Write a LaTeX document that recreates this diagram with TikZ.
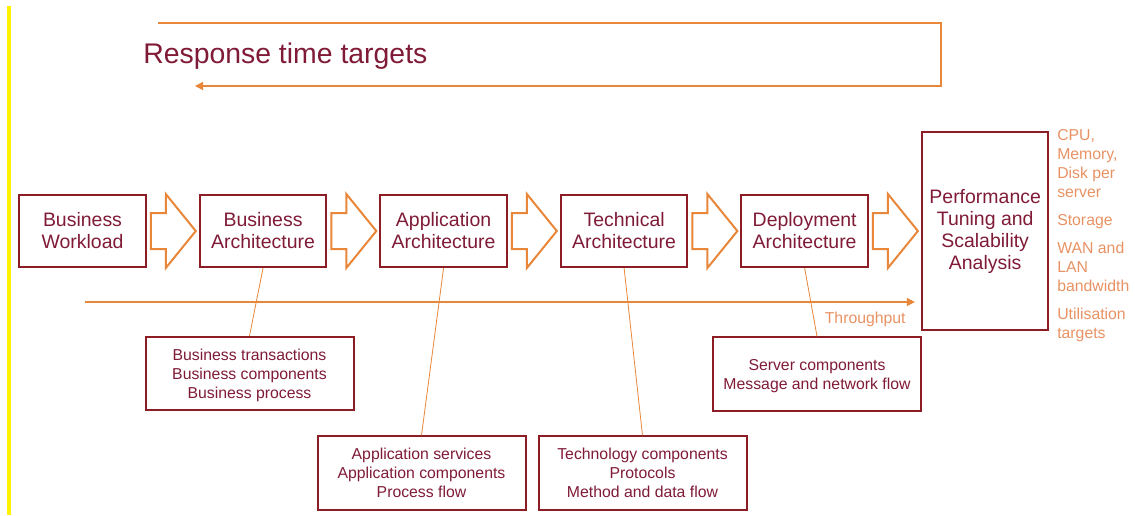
\documentclass[tikz,border=0pt]{standalone}
\usepackage{fontspec}
\setmainfont{Liberation Sans}
\usepackage{tikz}
\usetikzlibrary{arrows.meta,positioning,calc}
\definecolor{boxred}{RGB}{140,29,36}
\definecolor{textred}{RGB}{128,27,55}
\definecolor{flow}{RGB}{232,134,58}
\definecolor{note}{RGB}{232,146,100}
\tikzset{
  stagebox/.style={draw=boxred,line width=1.5pt,fill=white,text=textred,
    align=center,inner sep=2pt,minimum width=94.9pt,minimum height=54pt,
    font=\fontsize{14.6}{16.5}\selectfont},
  detailbox/.style={draw=boxred,line width=1.5pt,fill=white,text=textred,
    align=center,inner sep=2pt,minimum width=156pt,minimum height=55pt,
    text depth=0pt,font=\fontsize{11.85}{14.25}\selectfont},
  notetext/.style={text=note,inner sep=0pt,font=\fontsize{11.85}{14.25}\selectfont},
  fatarrow/.style={draw=flow,line width=1.5pt,line join=miter,fill=white},
  link/.style={draw=flow,line width=.6pt},
  flowline/.style={draw=flow,line width=1pt},
  flowarrow/.style={flowline,-{Triangle[length=6pt,width=6pt]}}
}

\begin{document}
\begin{tikzpicture}[x=0.75pt,y=-0.75pt,node distance=39pt]
\useasboundingbox (0,0) rectangle (1135,515);
\draw[yellow,line width=3pt] (9,6) -- (9,515);

% response time loop
\node[anchor=west,text=textred,inner sep=0pt,font=\fontsize{21.3}{25}\selectfont]
  (rt) at (143,56) {Response time targets};
\coordinate (rtstart) at (158,23);
\coordinate (rtcorner) at (941,86);
\coordinate (rtend) at (195,86);
\draw[flowarrow] (rtstart) -| (rtcorner) -- (rtend);

% stages
\node[stagebox] (bw) at (82.5,231) {Business\\Workload};
\node[stagebox,right=of bw] (ba) {Business\\Architecture};
\node[stagebox,right=of ba] (aa) {Application\\Architecture};
\node[stagebox,right=of aa] (ta) {Technical\\Architecture};
\node[stagebox,right=of ta] (da) {Deployment\\Architecture};
\node[stagebox,right=of da,minimum height=148.5pt] (pt)
  {Performance\\Tuning and\\Scalability\\Analysis};

% block arrows between stages
\foreach \a/\b in {bw/ba,ba/aa,aa/ta,ta/da,da/pt}
  \draw[fatarrow] ($(\a.east)+(4,-18)$) -- ++(15,0) -- ++(0,-19)
    -- ($(\b.west)+(-3,0)$) -- ($(\a.east)+(19,37)$) -- ++(0,-19)
    -- ++(-15,0) -- cycle;

% throughput
\coordinate (tpstart) at (85,302);
\draw[flowarrow] (tpstart) -- ($(tpstart -| pt.west)+(-6,0)$) coordinate (tpend);
\node[notetext,anchor=east] (tp) at ($(tpend)+(-9,17)$) {Throughput};

% detail boxes
\node[detailbox] (bd) at (249.5,373.5)
  {Business transactions\\Business components\\Business process};
\node[detailbox] (ad) at (421.5,473)
  {Application services\\Application components\\Process flow};
\node[detailbox] (td) at (642.5,473)
  {Technology components\\Protocols\\Method and data flow};
\node[detailbox] (dd) at (817,374)
  {Server components\\Message and network flow};
\foreach \a/\b in {ba/bd,aa/ad,ta/td,da/dd}
  \draw[link] (\a.south) -- (\b.north);

% resources
\node[notetext,anchor=north west,align=left] (res) at (1057,129)
  {CPU,\\Memory,\\Disk per\\server\\[6.75pt]Storage\\[6.75pt]WAN and\\LAN\\
   bandwidth\\[6.75pt]Utilisation\\targets};
\end{tikzpicture}
\end{document}
